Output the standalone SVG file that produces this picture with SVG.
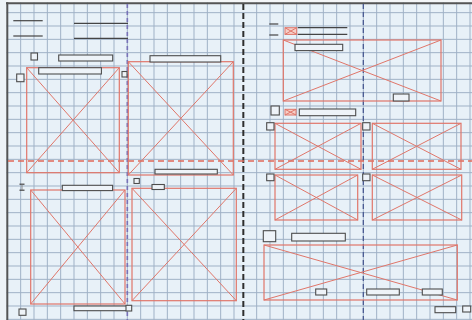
<svg xmlns="http://www.w3.org/2000/svg" width="472" height="320" viewBox="0 0 472 320">
<defs>
<style>
.grid{stroke:#9fb1c6;stroke-width:1;fill:none}
.img{fill:none;stroke:#e0766a;stroke-width:1.2}
.x{stroke:#e0766a;stroke-width:1;fill:none}
.box{fill:#eef3f8;stroke:#4d4d4d;stroke-width:1.1}
.ln{stroke:#444;stroke-width:1.2;fill:none}
.ico{fill:#f6cfc8;stroke:#e0766a;stroke-width:1}
</style>
</defs>
<rect x="0" y="0" width="472" height="320" fill="#e8f1f8"/>
<g id="grid" class="grid">
<path d="M20.67 0V320M34 0V320M47.33 0V320M60.67 0V320M74 0V320M87.33 0V320M100.67 0V320M114 0V320M127.33 0V320M140.67 0V320M154 0V320M167.33 0V320M180.67 0V320M194 0V320M207.33 0V320M220.67 0V320M234 0V320"/>
<path d="M256.67 0V320M270 0V320M283.33 0V320M296.67 0V320M310 0V320M323.33 0V320M336.67 0V320M350 0V320M363.33 0V320M376.67 0V320M390 0V320M403.33 0V320M416.67 0V320M430 0V320M443.33 0V320M456.67 0V320M470 0V320"/>
<path d="M0 12.67H472M0 26H472M0 39.33H472M0 52.67H472M0 66H472M0 79.33H472M0 92.67H472M0 106H472M0 119.33H472M0 132.67H472M0 146H472M0 159.33H472M0 172.67H472M0 186H472M0 199.33H472M0 212.67H472M0 226H472M0 239.33H472M0 252.67H472M0 266H472M0 279.33H472M0 292.67H472M0 306H472M0 319.33H472"/>
</g>
<g id="frame">
<rect x="0" y="0" width="472" height="2.5" fill="#f4f6f8"/>
<rect x="0" y="0" width="6.5" height="320" fill="#eef3f7"/>
<line x1="6" y1="3.3" x2="472" y2="3.3" stroke="#555" stroke-width="2"/>
<line x1="7.3" y1="2.3" x2="7.3" y2="320" stroke="#555" stroke-width="2"/>
</g>
<g id="guides">
<line x1="127.33" y1="4" x2="127.33" y2="320" stroke="#7872b8" stroke-width="1.6" stroke-dasharray="4 3"/>
<line x1="243.33" y1="4" x2="243.33" y2="320" stroke="#2e2e2e" stroke-width="2" stroke-dasharray="6 3"/>
<line x1="363.33" y1="4" x2="363.33" y2="320" stroke="#4a5a92" stroke-width="1.3" stroke-dasharray="5 3"/>
<line x1="8" y1="161" x2="472" y2="161" stroke="#e0695a" stroke-width="1.5" stroke-dasharray="6 4"/>
</g>
<g id="connectors"></g>
<g id="text-lines-left">
<line class="ln" x1="13.3" y1="20.7" x2="42.7" y2="20.7"/>
<line class="ln" x1="13.3" y1="36" x2="42.7" y2="36"/>
<line class="ln" x1="74" y1="23.3" x2="128" y2="23.3"/>
<line class="ln" x1="74" y1="38.3" x2="128" y2="38.3"/>
</g>
<g id="img1"><rect class="img" x="26.7" y="67.7" width="92.6" height="105"/><path class="x" d="M26.7 67.7L119.3 172.7M119.3 67.7L26.7 172.7"/></g>
<g id="img2"><rect class="img" x="128.3" y="61.7" width="105" height="113.3"/><path class="x" d="M128.3 61.7L233.3 175M233.3 61.7L128.3 175"/></g>
<g id="img3"><rect class="img" x="30.7" y="190" width="94.3" height="114"/><path class="x" d="M30.7 190L125 304M125 190L30.7 304"/></g>
<g id="img4"><rect class="img" x="132" y="188.3" width="104.3" height="112.4"/><path class="x" d="M132 188.3L236.3 300.7M236.3 188.3L132 300.7"/></g>
<g id="sq1"><rect class="box" x="31" y="53" width="6.5" height="7"/></g>
<g id="bar1"><rect class="box" x="58.7" y="55" width="54" height="6"/></g>
<g id="bar2"><rect class="box" x="38.7" y="67.7" width="62.7" height="6.3"/></g>
<g id="sq2"><rect class="box" x="16.7" y="74" width="7.3" height="7.7"/></g>
<g id="sq3"><rect class="box" x="122" y="71.5" width="5" height="5.5"/></g>
<g id="bar3"><rect class="box" x="150" y="55.7" width="70.7" height="6.3"/></g>
<g id="bar4"><rect class="box" x="155" y="169.3" width="62.3" height="4.7"/></g>
<g id="mark1"><line class="ln" x1="19.5" y1="184.2" x2="24.5" y2="184.2" stroke-width="1"/><line class="ln" x1="19.5" y1="190.2" x2="24.5" y2="190.2" stroke-width="1"/><line x1="22" y1="184.2" x2="22" y2="190.2" stroke="#777" stroke-width="0.8"/></g>
<g id="bar5"><rect class="box" x="62.3" y="185.3" width="50.3" height="5.3"/></g>
<g id="sq4"><rect class="box" x="134" y="178.5" width="5.3" height="5"/></g>
<g id="bar6"><rect class="box" x="152" y="184.5" width="12.3" height="5"/></g>
<g id="sq5"><rect class="box" x="19" y="309" width="7" height="6.3"/></g>
<g id="bar7"><rect class="box" x="74" y="306" width="53" height="4.7"/><rect class="box" x="126" y="305.3" width="5.7" height="5.7"/></g>
<g id="text-lines-right">
<line class="ln" x1="269.3" y1="24" x2="278.3" y2="24"/>
<line class="ln" x1="269.3" y1="35" x2="278.3" y2="35"/>
<line class="ln" x1="297.7" y1="27.7" x2="347.3" y2="27.7"/>
<line class="ln" x1="297.7" y1="34.3" x2="347.3" y2="34.3"/>
</g>
<g id="icon1"><rect class="ico" x="285" y="27.7" width="11.7" height="6.7"/><path class="x" d="M285 27.7L296.7 34.4M296.7 27.7L285 34.4"/></g>
<g id="img5"><rect class="img" x="283.3" y="40" width="157.7" height="61"/><path class="x" d="M283.3 40L441 101M441 40L283.3 101"/></g>
<g id="bar8"><rect class="box" x="295" y="44.3" width="47.7" height="6.3"/></g>
<g id="bar9"><rect class="box" x="393.3" y="94" width="15.7" height="7"/></g>
<g id="sq7"><rect class="box" x="271" y="106" width="8.3" height="9"/></g>
<g id="icon2"><rect class="ico" x="285" y="109.3" width="11" height="5.7"/><path class="x" d="M285 109.3L296 115M296 109.3L285 115"/></g>
<g id="bar10"><rect class="box" x="299.3" y="109" width="56.4" height="6.7"/></g>
<g id="img6"><rect class="img" x="275" y="123.3" width="86" height="46"/><path class="x" d="M275 123.3L361 169.3M361 123.3L275 169.3"/></g>
<g id="img7"><rect class="img" x="372.3" y="123.3" width="88.7" height="46"/><path class="x" d="M372.3 123.3L461 169.3M461 123.3L372.3 169.3"/></g>
<g id="img8"><rect class="img" x="275" y="175" width="82.7" height="45"/><path class="x" d="M275 175L357.7 220M357.7 175L275 220"/></g>
<g id="img9"><rect class="img" x="372.3" y="175" width="89.4" height="45"/><path class="x" d="M372.3 175L461.7 220M461.7 175L372.3 220"/></g>
<g id="sq8"><rect class="box" x="266.7" y="122.7" width="7.3" height="7.3"/></g>
<g id="sq9"><rect class="box" x="362.7" y="122.7" width="7.3" height="7.3"/></g>
<g id="sq10"><rect class="box" x="266.7" y="174" width="7.3" height="6.7"/></g>
<g id="sq11"><rect class="box" x="362.7" y="174" width="7.3" height="6.7"/></g>
<g id="sq12"><rect class="box" x="263.3" y="230.7" width="12.4" height="11"/></g>
<g id="bar11"><rect class="box" x="291.7" y="233.3" width="53.6" height="7.7"/></g>
<g id="img10"><rect class="img" x="264" y="245" width="193.3" height="55"/><path class="x" d="M264 245L457.3 300M457.3 245L264 300"/></g>
<g id="bar12"><rect class="box" x="315.7" y="289" width="11" height="6"/></g>
<g id="bar13"><rect class="box" x="366.7" y="289" width="32.6" height="6"/></g>
<g id="bar14"><rect class="box" x="422.3" y="289" width="20" height="6"/></g>
<g id="bar15"><rect class="box" x="435" y="306.7" width="20.7" height="6"/></g>
<g id="sq13"><rect class="box" x="462.7" y="306" width="8" height="6"/></g>
</svg>
